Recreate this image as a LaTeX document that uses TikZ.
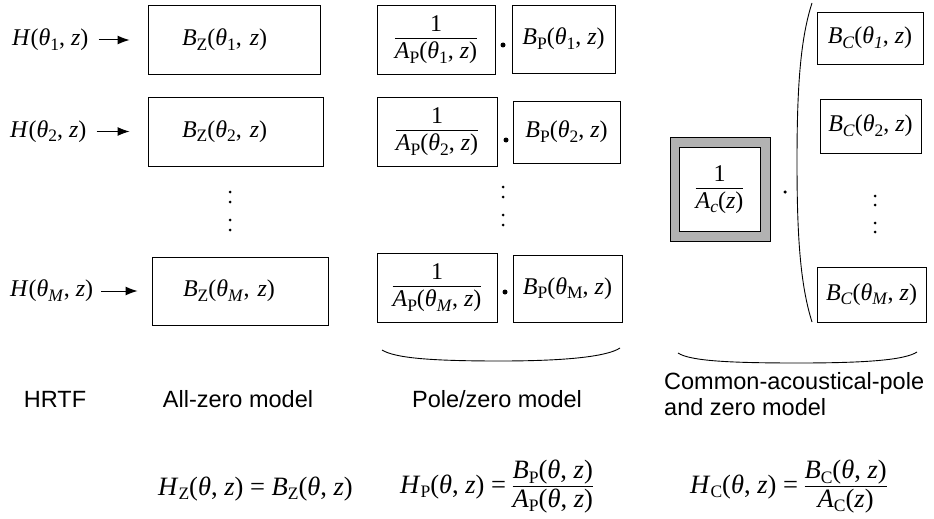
\documentclass[tikz,border=0pt]{standalone}
\usepackage{fontspec}
\setmainfont{Liberation Serif}
\setsansfont{Liberation Sans}
\usetikzlibrary{arrows.meta}
\newcommand\I[1]{\textit{#1}}
\newcommand\lo[1]{\raisebox{-4.5pt}{\fontsize{17.5}{17.5}\selectfont #1}}
\newcommand\fr[2]{\begin{tabular}{@{}c@{}}#1\\[-2pt]\hline #2\end{tabular}}
\setlength\arrayrulewidth{0.9pt}
\setlength\tabcolsep{0pt}
\begin{document}
\begin{tikzpicture}[x=1pt,y=-1pt,
  bx/.style={draw, line width=0.9pt, inner sep=0pt, font=\fontsize{24}{28}\selectfont},
  lab/.style={font=\sffamily\fontsize{23.5}{26}\selectfont, inner sep=0pt},
  eq/.style={font=\fontsize{26.5}{30}\selectfont, inner sep=0pt},
  hin/.style={font=\fontsize{24}{28}\selectfont, inner sep=0pt},
  arr/.style={-{Latex[length=12pt,width=9pt]}, line width=1pt},
  dt/.style={circle, fill=black, inner sep=0pt, minimum size=#1}]
\useasboundingbox (0,0) rectangle (934,519);
% ---- left column: HRTF inputs and all-zero model
\node[hin, anchor=west] (h1) at (12,40) {\I{H}(\I{θ}\lo{1}, \I{z})};
\node[bx, minimum width=172pt, minimum height=69pt, text width=104pt, align=left] (bz1) at (234,40) {\I{B}\lo{Z}(\I{θ}\lo{1}, \I{z})};
\draw[arr, shorten <=10pt, shorten >=18pt] (h1.east) -- (bz1.west);
\node[hin, anchor=west] (h2) at (10,131.5) {\I{H}(\I{θ}\lo{2}, \I{z})};
\node[bx, minimum width=175pt, minimum height=69pt, text width=107pt, align=left] (bz2) at (235.5,131.5) {\I{B}\lo{Z}(\I{θ}\lo{2}, \I{z})};
\draw[arr, shorten <=10pt, shorten >=18pt] (h2.east) -- (bz2.west);
\node[hin, anchor=west] (hM) at (10,291) {\I{H}(\I{θ}\lo{\I{M}}, \I{z})};
\node[bx, minimum width=176pt, minimum height=68pt, text width=114pt, align=left] (bzM) at (240,291) {\I{B}\lo{Z}(\I{θ}\lo{\I{M}}, \I{z})};
\draw[arr, shorten <=8pt, shorten >=14pt] (hM.east) -- (bzM.west);
\node[dt=3pt] (zd1) at (230,192) {};
\node[dt=3pt] (zd2) at (230,202) {};
\node[dt=3pt] (zd3) at (230,220) {};
\node[dt=3pt] (zd4) at (230,230) {};
% ---- pole/zero model
\node[bx, minimum width=118pt, minimum height=69pt] (a1) at (436,39.5) {\fr{1}{\I{A}\lo{P}(\I{θ}\lo{1}, \I{z})}};
\node[dt=5pt] (p1) at (503,45) {};
\node[bx, minimum width=103pt, minimum height=68pt] (b1) at (563.5,39) {\I{B}\lo{P}(\I{θ}\lo{1}, \I{z})};
\node[bx, minimum width=120pt, minimum height=69pt] (a2) at (437,131.5) {\fr{1}{\I{A}\lo{P}(\I{θ}\lo{2}, \I{z})}};
\node[dt=5pt] (p2) at (506,140) {};
\node[bx, minimum width=107pt, minimum height=62pt] (b2) at (566.5,132) {\I{B}\lo{P}(\I{θ}\lo{2}, \I{z})};
\node[dt=3pt] (pd1) at (503,187) {};
\node[dt=3pt] (pd2) at (503,197) {};
\node[dt=3pt] (pd3) at (503,215) {};
\node[dt=3pt] (pd4) at (503,225) {};
\node[bx, minimum width=120pt, minimum height=69pt] (aM) at (437,287.5) {\fr{1}{\I{A}\lo{P}(\I{θ}\lo{\I{M}}, \I{z})}};
\node[dt=5pt] (pM) at (505,292) {};
\node[bx, minimum width=109pt, minimum height=67pt] (bM) at (567.5,288.5) {\I{B}\lo{P}(\I{θ}\lo{M}, \I{z})};
% ---- common-acoustical-pole model
\node[draw, line width=0.9pt, fill=black!30, minimum width=100pt, minimum height=104pt, inner sep=0pt] (acout) at (720,189) {};
\node[draw, line width=0.6pt, fill=white, minimum width=81pt, minimum height=84pt, inner sep=0pt, font=\fontsize{24}{28}\selectfont] (ac) at (719.5,189) {\fr{1}{\I{A}\lo{\I{c}}(\I{z})}};
\node[dt=3.5pt] (cdot) at (785,192) {};
\draw[line width=0.9pt] (812,3) .. controls (800,40) and (797,90) .. (797,162) .. controls (797,234) and (800,284) .. (812,322);
\node[bx, minimum width=106pt, minimum height=52pt] (c1) at (870,38) {\I{B}\lo{\I{C}}(\I{θ}\lo{\I{1}}, \I{z})};
\node[bx, minimum width=101pt, minimum height=54pt] (c2) at (870.5,126) {\I{B}\lo{\I{C}}(\I{θ}\lo{2}, \I{z})};
\node[dt=3pt] (cd1) at (875,196) {};
\node[dt=3pt] (cd2) at (875,205) {};
\node[dt=3pt] (cd3) at (875,223) {};
\node[dt=3pt] (cd4) at (875,232) {};
\node[bx, minimum width=109pt, minimum height=55pt] (cM) at (871.5,294.5) {\I{B}\lo{\I{C}}(\I{θ}\lo{\I{M}}, \I{z})};
% ---- braces
\draw[line width=0.9pt] (382,350) .. controls (395,358) and (430,361) .. (500,361) .. controls (570,361) and (608,356) .. (620,348);
\draw[line width=0.9pt] (678,353) .. controls (690,361) and (730,363) .. (798,363) .. controls (866,363) and (905,360) .. (917,352);
% ---- labels
\node[lab] (lhrtf) at (55,399) {HRTF};
\node[lab] (lall) at (238,399) {All-zero model};
\node[lab] (lpz) at (497,399) {Pole/zero model};
\node[lab, anchor=north west, align=left] (lcap) at (664,372) {Common-acoustical-pole\\and zero model};
% ---- equations
\node[eq, anchor=west] (ez) at (158,489) {\I{H}\lo{Z}(\I{θ}, \I{z}) = \I{B}\lo{Z}(\I{θ}, \I{z})};
\node[eq, anchor=west] (ep) at (400,487) {\I{H}\lo{P}(\I{θ}, \I{z}) = \fr{\I{B}\lo{P}(\I{θ}, \I{z})}{\I{A}\lo{P}(\I{θ}, \I{z})}};
\node[eq, anchor=west] (ec) at (690,487) {\I{H}\lo{C}(\I{θ}, \I{z}) = \fr{\I{B}\lo{C}(\I{θ}, \I{z})}{\I{A}\lo{C}(\I{z})}};
\end{tikzpicture}
\end{document}
